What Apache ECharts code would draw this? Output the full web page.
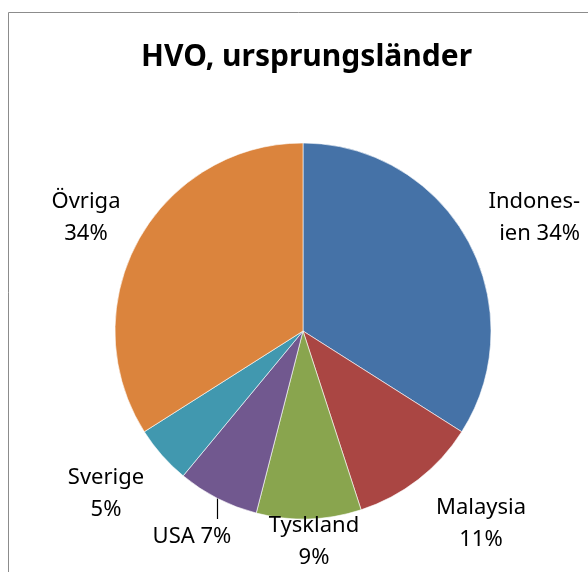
<!DOCTYPE html>
<html>
<head>
<meta charset="utf-8">
<script src="https://cdn.jsdelivr.net/npm/echarts@6/dist/echarts.min.js"></script>
<style>
  html, body { margin: 0; padding: 0; background: #fff; }
  #chart { width: 588px; height: 572px; }
</style>
</head>
<body>
<div id="chart"></div>
<script>
var countries = ['Indonesien', 'Malaysia', 'Tyskland', 'USA', 'Sverige', 'Övriga'];
var shares = [34, 11, 9, 7, 5, 34];
var labelTexts = ['Indones-\nien 34%', 'Malaysia\n11%', 'Tyskland\n9%', 'USA 7%', 'Sverige\n5%', 'Övriga\n34%'];
var colors = ['#4572a7', '#aa4643', '#89a54e', '#71588f', '#4198af', '#db843d'];

// where each label sits (x, center y, align)
var labelPos = [[580, 218, 'right'], [481, 524, 'center'], [314, 542, 'center'],
                [192, 537, 'center'], [106, 494, 'center'], [86, 218, 'center']];

var chart = echarts.init(document.getElementById('chart'));
chart.setOption({
    animation: false,
    textStyle: { fontFamily: 'Noto Sans' },
    title: {
        text: 'HVO, ursprungsländer',
        left: 136,
        top: 37,
        textStyle: { fontSize: 30, fontWeight: 'bold', color: '#000', fontFamily: 'Noto Sans' }
    },
    graphic: [{
        type: 'rect',
        shape: { x: 8.5, y: 12.5, width: 620, height: 600 },
        style: { fill: null, stroke: '#8c8c8c', lineWidth: 1 }
    }],
    series: [{
        type: 'pie',
        center: [303, 331],
        radius: 188,
        startAngle: 90,
        clockwise: true,
        itemStyle: { borderColor: '#fff', borderWidth: 0.6 },
        label: {
            show: true,
            position: 'outside',
            color: '#000',
            fontSize: 22,
            lineHeight: 32,
            align: 'center',
            overflow: 'none',
            formatter: function (p) { return labelTexts[p.dataIndex]; }
        },
        labelLine: { show: false },
        labelLayout: function (params) {
            var i = params.dataIndex;
            var res = {
                x: labelPos[i][0],
                y: labelPos[i][1],
                align: labelPos[i][2],
                verticalAlign: 'middle'
            };
            if (i === 3) {
                res.labelLinePoints = [[217.5, 498], [217.5, 508], [217.5, 519]];
            }
            return res;
        },
        data: countries.map(function (c, i) {
            var d = { name: c, value: shares[i], itemStyle: { color: colors[i] } };
            if (i === 3) d.labelLine = { show: true, lineStyle: { color: '#000', width: 1.2 } };
            return d;
        })
    }]
});
</script>
</body>
</html>
